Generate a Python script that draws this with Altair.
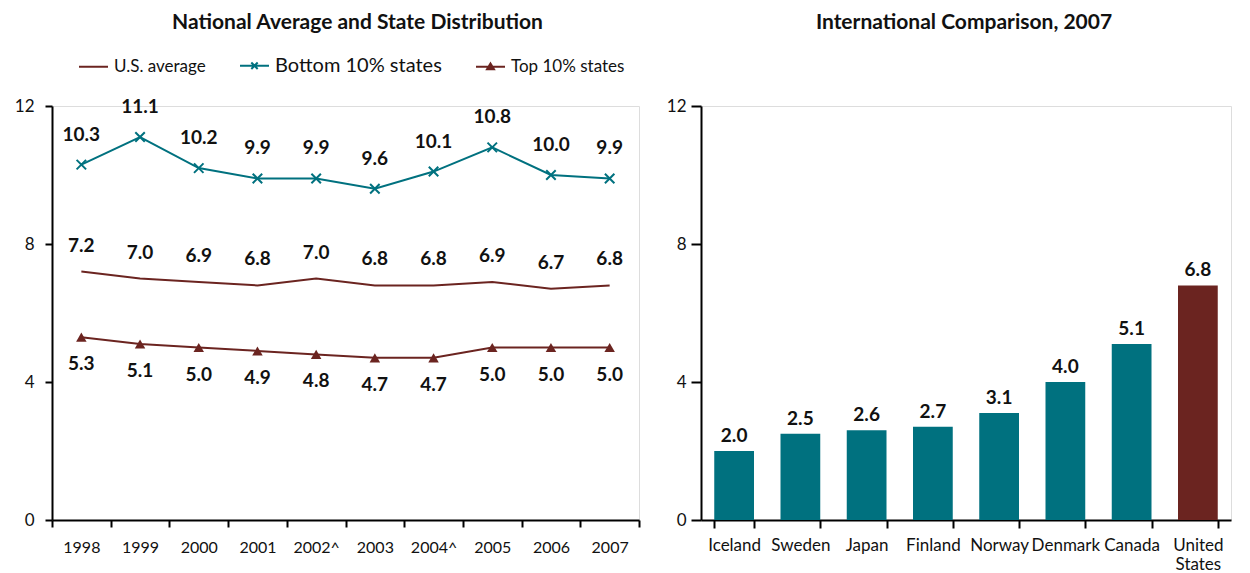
import altair as alt
import pandas as pd

years = ["1998", "1999", "2000", "2001", "2002^", "2003", "2004^", "2005", "2006", "2007"]
us_average = [7.2, 7.0, 6.9, 6.8, 7.0, 6.8, 6.8, 6.9, 6.7, 6.8]
bottom_10 = [10.3, 11.1, 10.2, 9.9, 9.9, 9.6, 10.1, 10.8, 10.0, 9.9]
top_10 = [5.3, 5.1, 5.0, 4.9, 4.8, 4.7, 4.7, 5.0, 5.0, 5.0]
series_names = ["U.S. average", "Bottom 10% states", "Top 10% states"]

countries = ["Iceland", "Sweden", "Japan", "Finland", "Norway", "Denmark", "Canada", "United States"]
intl_values = [2.0, 2.5, 2.6, 2.7, 3.1, 4.0, 5.1, 6.8]

TEAL = "#00717f"
BROWN = "#6b2420"
FONT = "Lato"

rows = []
for name, vals in zip(series_names, [us_average, bottom_10, top_10]):
    for y, v in zip(years, vals):
        rows.append({"year": y, "series": name, "value": v})
df = pd.DataFrame(rows)

df_bar = pd.DataFrame({"country": countries, "value": intl_values})

xenc = alt.X("year:N", sort=years, title=None,
             scale=alt.Scale(type="band", paddingInner=0, paddingOuter=0),
             axis=alt.Axis(labelAngle=0, tickBand="extent", labelPadding=12, tickSize=7,
                           labelFontSize=16, labelFont=FONT, labelColor="#111",
                           domainColor="black", domainWidth=2, tickColor="black", tickWidth=2))
yenc = alt.Y("value:Q", title=None, scale=alt.Scale(domain=[0, 12], nice=False),
             axis=alt.Axis(values=[0, 4, 8, 12], grid=False, tickSize=7, labelPadding=11,
                           labelFontSize=17, labelFont=FONT, labelColor="#111",
                           domainColor="black", domainWidth=2, tickColor="black", tickWidth=2))

shape_expr = ("datum.value === 'U.S. average' ? 'M-1,0L1,0' : "
              "datum.value === 'Bottom 10% states' ? 'M-1,0L1,0M-0.22,-0.22L0.22,0.22M0.22,-0.22L-0.22,0.22' : "
              "'M-1,0L1,0M0,-0.22L0.24,0.18L-0.24,0.18Z'")
fill_expr = f"datum.value === 'Top 10% states' ? '{BROWN}' : 'transparent'"
size_expr = "datum.value === 'Bottom 10% states' ? 20 : 17"

legend = alt.Legend(
    title=None, orient="none", direction="horizontal", legendX=26, legendY=-56,
    symbolSize=841, symbolStrokeWidth=2, labelFont=FONT, labelColor="#111",
    labelFontSize=alt.ExprRef(size_expr), labelLimit=400,
    symbolType=alt.ExprRef(shape_expr),
    symbolFillColor=alt.ExprRef(fill_expr),
    labelOffset=5, columnPadding=30,
)

color = alt.Color("series:N", scale=alt.Scale(domain=series_names, range=[BROWN, TEAL, BROWN]),
                  sort=series_names, legend=legend)

base = alt.Chart(df)
lines = base.mark_line(strokeWidth=2).encode(x=xenc, y=yenc, color=color, detail="series:N")

x_shape = "M-1,-1L1,1M1,-1L-1,1"
bottom_pts = base.transform_filter(alt.datum.series == "Bottom 10% states").mark_point(
    shape=x_shape, filled=False, size=90, strokeWidth=2, color=TEAL, opacity=1
).encode(x="year:N", y="value:Q")
top_pts = base.transform_filter(alt.datum.series == "Top 10% states").mark_point(
    shape="triangle-up", filled=True, size=110, color=BROWN, opacity=1
).encode(x="year:N", y="value:Q")

def labels(series, dy):
    return base.transform_filter(alt.datum.series == series).mark_text(
        dy=dy, fontSize=19, fontWeight="bold", font=FONT, color="#111"
    ).encode(x="year:N", y="value:Q", text=alt.Text("value:Q", format=".1f"))

TITLE_OFFSET = 64

left = alt.layer(
    lines, bottom_pts, top_pts,
    labels("Bottom 10% states", -30), labels("U.S. average", -26), labels("Top 10% states", 27),
).properties(
    width=587, height=414,
    title=alt.TitleParams("National Average and State Distribution", fontSize=21, font=FONT,
                          fontWeight="bold", color="#111", anchor="middle", frame="group",
                          dx=12, offset=TITLE_OFFSET),
)

bar_base = alt.Chart(df_bar)
bx = alt.X("country:N", sort=countries, title=None,
           scale=alt.Scale(paddingInner=0.4, paddingOuter=0.2),
           axis=alt.Axis(labelAngle=0, tickBand="extent", labelPadding=9, tickSize=8,
                         labelFontSize=17, labelFont=FONT, labelColor="#111",
                         labelExpr="datum.label == 'United States' ? ['United', 'States'] : datum.label",
                         labelLineHeight=19,
                         domainColor="black", domainWidth=2, tickColor="black", tickWidth=2))
by = alt.Y("value:Q", title=None, scale=alt.Scale(domain=[0, 12], nice=False),
           axis=alt.Axis(values=[0, 4, 8, 12], grid=False, tickSize=10, labelPadding=5,
                         labelFontSize=17, labelFont=FONT, labelColor="#111",
                         domainColor="black", domainWidth=2, tickColor="black", tickWidth=2))
bars = bar_base.mark_bar().encode(
    x=bx, y=by,
    color=alt.condition(alt.datum.country == "United States", alt.value(BROWN), alt.value(TEAL)),
)
bar_text = bar_base.mark_text(dy=-15, fontSize=19, fontWeight="bold", font=FONT, color="#111").encode(
    x=alt.X("country:N", sort=countries), y="value:Q", text=alt.Text("value:Q", format=".1f")
)
right = alt.layer(bars, bar_text).properties(
    width=530, height=414,
    title=alt.TitleParams("International Comparison, 2007", fontSize=21, font=FONT,
                          fontWeight="bold", color="#111", anchor="middle", frame="group",
                          dx=-2, offset=TITLE_OFFSET),
)

chart = alt.hconcat(left, right, spacing=62, bounds="flush").properties(
    padding={"left": 5, "top": 3, "right": 0, "bottom": 0}
).configure_view(stroke=None).configure(font=FONT)

chart.save("out.html", embed_options={"renderer": "svg", "actions": False})
